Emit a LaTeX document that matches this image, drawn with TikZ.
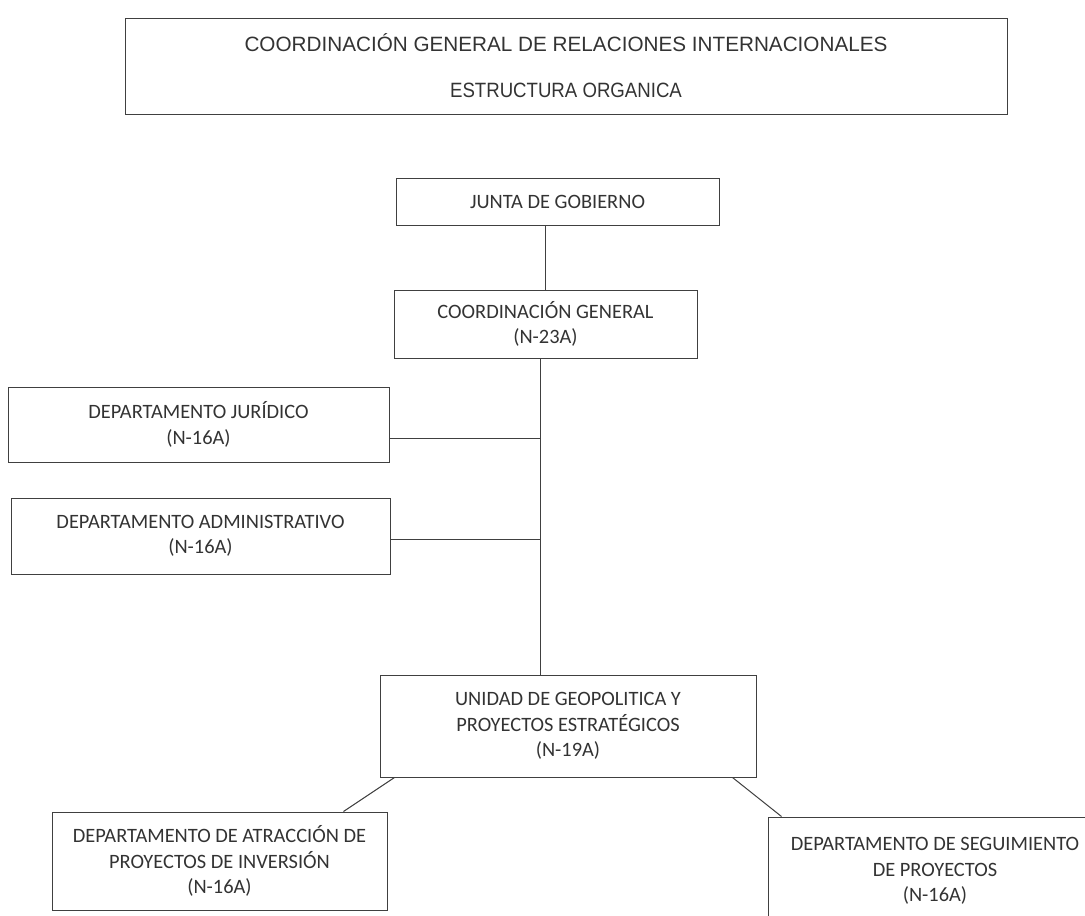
\documentclass[tikz,border=0pt]{standalone}
\usepackage{fontspec}
\setmainfont{Carlito}
\newfontfamily\encfont{Liberation Sans}
\newfontfamily\encfontnarrow[FakeStretch=0.9]{Liberation Sans}
\usetikzlibrary{positioning,calc}

\begin{document}
\begin{tikzpicture}[x=1pt, y=-1pt,
  caja/.style={draw=black!75, line width=1pt, align=center, text=black!80, inner sep=0pt,
    font=\fontsize{20.4}{25.5}\selectfont},
  linea/.style={draw=black!75, line width=1pt}]
\useasboundingbox (0,0) rectangle (1085,916);
\clip (0,0) rectangle (1085,916);
\node[caja, minimum width=882, minimum height=96, font=\fontsize{20.7}{46}\selectfont] (titulo) at (566,66)
  {{\encfont COORDINACIÓN GENERAL DE RELACIONES INTERNACIONALES}\\{\encfontnarrow ESTRUCTURA ORGANICA}};
\node[caja, minimum width=323, minimum height=47] (junta) at (557.5,201.5) {JUNTA DE GOBIERNO};
\node[caja, minimum width=303, minimum height=68] (coord) at (545.5,324) {COORDINACIÓN GENERAL\\(N-23A)};
\node[caja, minimum width=381, minimum height=75] (jur) at (198.5,424.5) {DEPARTAMENTO JURÍDICO\\(N-16A)};
\node[caja, minimum width=379, minimum height=76] (adm) at (200.5,536) {DEPARTAMENTO ADMINISTRATIVO\\(N-16A)};
\node[caja, minimum width=376, minimum height=102] (unidad) at (568,726) {UNIDAD DE GEOPOLITICA Y\\PROYECTOS ESTRATÉGICOS\\(N-19A)};
\node[caja, minimum width=335, minimum height=98] (atr) at (219.5,861) {DEPARTAMENTO DE ATRACCIÓN DE\\PROYECTOS DE INVERSIÓN\\(N-16A)};
\node[caja, minimum width=334, minimum height=108] (seg) at (935,871) {DEPARTAMENTO DE SEGUIMIENTO\\DE PROYECTOS\\(N-16A)};
\coordinate (tronco) at ([xshift=-5pt]coord.south);
\path[linea]
(junta.south -| coord.north) edge (coord.north)
(tronco) edge (tronco |- unidad.north)
([yshift=-14pt]jur.east) edge ([yshift=-14pt]jur.east -| tronco)
([yshift=-3pt]adm.east) edge ([yshift=-3pt]adm.east -| tronco);
\path[linea]
($(unidad.south west)+(15,0)$) edge ($(atr.north east)+(-44,0)$)
($(unidad.south east)+(-24,0)$) edge ($(seg.north west)+(14,0)$);
\end{tikzpicture}
\end{document}
